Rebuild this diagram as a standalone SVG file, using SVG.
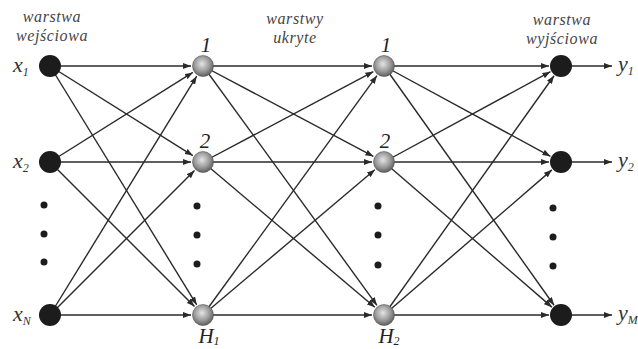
<svg xmlns="http://www.w3.org/2000/svg" width="638" height="349" viewBox="0 0 638 349">
<style>
.c{stroke:#2a2a2a;stroke-width:1.4;fill:none;marker-end:url(#ah)}
.io{fill:#1c1c1c}
.hid{fill:url(#sph);stroke:#555;stroke-width:0.6}
.dot{fill:#1c1c1c}
.ttl{font-family:"Liberation Serif",serif;font-style:italic;font-size:16px;fill:#444;text-anchor:middle;letter-spacing:0.6px}
.lb{font-family:"Liberation Serif",serif;font-style:italic;font-size:22px;fill:#333}
.sub{font-size:12px}
.num{font-family:"Liberation Serif",serif;font-style:italic;font-size:21px;fill:#222;text-anchor:middle}
</style>
<defs>
<marker id="ah" viewBox="0 0 8 6" refX="8" refY="3" markerWidth="8" markerHeight="6" markerUnits="userSpaceOnUse" orient="auto">
<path d="M0,0 L8,3 L0,6 z" fill="#2a2a2a"/>
</marker>
<radialGradient id="sph" cx="0.45" cy="0.4" r="0.6">
<stop offset="0" stop-color="#e4e4e4"/>
<stop offset="0.6" stop-color="#9a9a9a"/>
<stop offset="1" stop-color="#5e5e5e"/>
</radialGradient>
</defs>
<rect width="638" height="349" fill="#fff"/>
<g id="connectors">
<path class="c" d="M50,66 L191,66"/>
<path class="c" d="M50,66 L192.84,155.62"/>
<path class="c" d="M50,66 L196.72,304.78"/>
<path class="c" d="M50,162 L192.84,72.38"/>
<path class="c" d="M50,162 L191,162"/>
<path class="c" d="M50,162 L194.51,306.51"/>
<path class="c" d="M50,315 L196.72,76.22"/>
<path class="c" d="M50,315 L194.51,170.49"/>
<path class="c" d="M50,315 L191,315"/>
<path class="c" d="M203,66 L372,66"/>
<path class="c" d="M203,66 L373.4,156.38"/>
<path class="c" d="M203,66 L376.94,305.29"/>
<path class="c" d="M203,162 L373.4,71.62"/>
<path class="c" d="M203,162 L372,162"/>
<path class="c" d="M203,162 L374.84,307.25"/>
<path class="c" d="M203,315 L376.94,75.71"/>
<path class="c" d="M203,315 L374.84,169.75"/>
<path class="c" d="M203,315 L372,315"/>
<path class="c" d="M384,66 L549,66"/>
<path class="c" d="M384,66 L550.45,156.28"/>
<path class="c" d="M384,66 L554.05,305.22"/>
<path class="c" d="M384,162 L550.45,71.72"/>
<path class="c" d="M384,162 L549,162"/>
<path class="c" d="M384,162 L551.92,307.15"/>
<path class="c" d="M384,315 L554.05,75.78"/>
<path class="c" d="M384,315 L551.92,169.85"/>
<path class="c" d="M384,315 L549,315"/>
<path class="c" d="M561,66 L612,66"/>
<path class="c" d="M561,162 L612,162"/>
<path class="c" d="M561,315 L612,315"/>
</g>
<g id="titles">
<text class="ttl" x="52" y="22">warstwa</text>
<text class="ttl" x="52" y="41">wejściowa</text>
<text class="ttl" x="295" y="24">warstwy</text>
<text class="ttl" x="295" y="43">ukryte</text>
<text class="ttl" x="562" y="25">warstwa</text>
<text class="ttl" x="562" y="44">wyjściowa</text>
</g>
<g id="input1"><circle class="io" cx="50" cy="66" r="11"/><text class="lb" x="13" y="72">x<tspan class="sub" dy="4">1</tspan></text></g>
<g id="input2"><circle class="io" cx="50" cy="162" r="11"/><text class="lb" x="13" y="168">x<tspan class="sub" dy="4">2</tspan></text></g>
<g id="inputN"><circle class="io" cx="50" cy="315" r="11"/><text class="lb" x="13" y="321">x<tspan class="sub" dy="4">N</tspan></text></g>
<g id="dots1"><circle class="dot" cx="44" cy="205" r="3.5"/><circle class="dot" cx="44" cy="234" r="3.5"/><circle class="dot" cx="44" cy="262" r="3.5"/></g>
<g id="h1n1"><circle class="hid" cx="203" cy="66" r="10.5"/><text class="num" x="206" y="52">1</text></g>
<g id="h1n2"><circle class="hid" cx="203" cy="162" r="10.5"/><text class="num" x="205" y="148">2</text></g>
<g id="h1nH"><circle class="hid" cx="203" cy="315" r="10.5"/><text class="num" x="209" y="343">H<tspan class="sub" dy="2">1</tspan></text></g>
<g id="dots2"><circle class="dot" cx="197" cy="206" r="3.5"/><circle class="dot" cx="197" cy="235" r="3.5"/><circle class="dot" cx="197" cy="264" r="3.5"/></g>
<g id="h2n1"><circle class="hid" cx="384" cy="66" r="10.5"/><text class="num" x="386" y="52">1</text></g>
<g id="h2n2"><circle class="hid" cx="384" cy="162" r="10.5"/><text class="num" x="385" y="148">2</text></g>
<g id="h2nH"><circle class="hid" cx="384" cy="315" r="10.5"/><text class="num" x="389" y="343">H<tspan class="sub" dy="2">2</tspan></text></g>
<g id="dots3"><circle class="dot" cx="378" cy="206" r="3.5"/><circle class="dot" cx="378" cy="235" r="3.5"/><circle class="dot" cx="378" cy="265" r="3.5"/></g>
<g id="out1"><circle class="io" cx="561" cy="66" r="11"/><text class="lb" x="618" y="71">y<tspan class="sub" dy="4">1</tspan></text></g>
<g id="out2"><circle class="io" cx="561" cy="162" r="11"/><text class="lb" x="618" y="167">y<tspan class="sub" dy="4">2</tspan></text></g>
<g id="outM"><circle class="io" cx="561" cy="315" r="11"/><text class="lb" x="618" y="320">y<tspan class="sub" dy="4">M</tspan></text></g>
<g id="dots4"><circle class="dot" cx="553" cy="208" r="3.5"/><circle class="dot" cx="553" cy="237" r="3.5"/><circle class="dot" cx="553" cy="266" r="3.5"/></g>
</svg>
